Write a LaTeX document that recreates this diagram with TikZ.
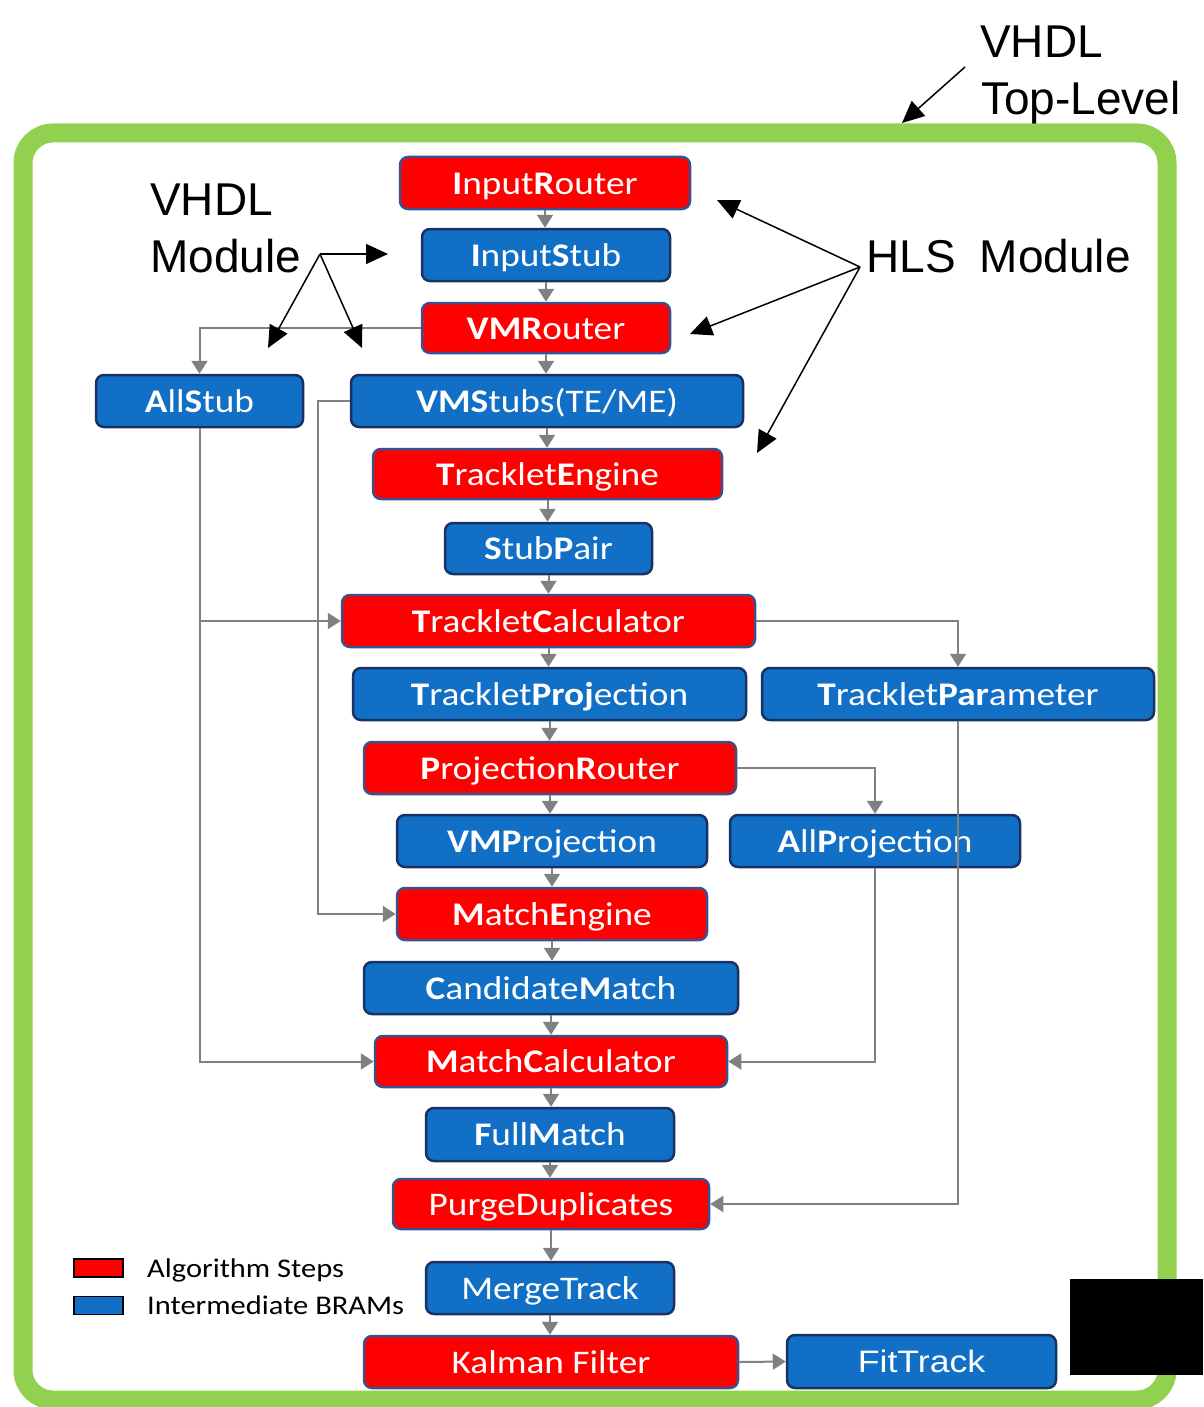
\documentclass[tikz,border=0pt]{standalone}
\usepackage{fontspec}
\setmainfont{Liberation Sans}
\newfontfamily\calfont[FakeStretch=1.13]{Carlito}
\newfontfamily\legfont[FakeStretch=1.13]{Carlito}
\newfontfamily\arialwide[FakeStretch=1.15]{Liberation Sans}
\usetikzlibrary{arrows.meta}
\definecolor{boxred}{RGB}{255,0,0}
\definecolor{boxblue}{RGB}{18,111,198}
\definecolor{redborder}{RGB}{60,80,140}
\definecolor{blueborder}{RGB}{25,50,100}
\definecolor{conngray}{RGB}{128,128,128}
\definecolor{framegreen}{RGB}{146,208,80}
\tikzset{
  box/.style={rounded corners=8pt, line width=2.5pt, inner sep=0pt, text=white,
    font=\calfont\fontsize{33}{36}\selectfont, text height=22pt, text depth=0pt},
  redbox/.style={box, fill=boxred, draw=redborder},
  bluebox/.style={box, fill=boxblue, draw=blueborder},
  conn/.style={draw=conngray, line width=2pt, -{Triangle[width=16pt,length=13pt]}},
  annot/.style={draw=black, line width=1.5pt, -{Triangle[width=20pt,length=22pt]}},
  bigtext/.style={font=\fontsize{46}{50}\selectfont, inner sep=0pt, anchor=base west, text=black},
  legbox/.style={draw=black, line width=1.2pt, minimum width=49pt, minimum height=18pt, inner sep=0pt},
  legtext/.style={font=\legfont\fontsize{27}{30}\selectfont, inner sep=0pt, anchor=base west, text=black}
}
\begin{document}
\begin{tikzpicture}[x=1pt,y=-1pt]
\useasboundingbox (0,0) rectangle (1203,1407);
% frame
\draw[framegreen, line width=19pt, rounded corners=30pt] (23,133) rectangle (1167,1400);

% boxes
\node[redbox, minimum width=290pt, minimum height=52pt] (ir) at (545,183) {\textbf{I}nput\textbf{R}outer};
\node[bluebox, minimum width=248pt, minimum height=52pt] (is) at (546,255) {\textbf{I}nput\textbf{S}tub};
\node[redbox, minimum width=248pt, minimum height=50pt] (vr) at (546,328) {\textbf{VMR}outer};
\node[bluebox, minimum width=207pt, minimum height=52pt] (as) at (199.5,401) {\textbf{A}ll\textbf{S}tub};
\node[bluebox, minimum width=392pt, minimum height=52pt] (vs) at (547,401) {\textbf{VMS}tubs(TE/ME)};
\node[redbox, minimum width=349pt, minimum height=50pt] (te) at (547.5,474) {\textbf{T}racklet\textbf{E}ngine};
\node[bluebox, minimum width=207pt, minimum height=51pt] (sp) at (548.5,548.5) {\textbf{S}tub\textbf{P}air};
\node[redbox, minimum width=413pt, minimum height=52pt] (tc) at (548.5,621) {\textbf{T}racklet\textbf{C}alculator};
\node[bluebox, minimum width=393pt, minimum height=52pt] (tp) at (549.5,694) {\textbf{T}racklet\textbf{Proj}ection};
\node[bluebox, minimum width=392pt, minimum height=52pt] (tpar) at (958,694) {\textbf{T}racklet\textbf{Par}ameter};
\node[redbox, minimum width=372pt, minimum height=52pt] (pr) at (550,768) {\textbf{P}rojection\textbf{R}outer};
\node[bluebox, minimum width=310pt, minimum height=52pt] (vmp) at (552,841) {\textbf{VMP}rojection};
\node[bluebox, minimum width=290pt, minimum height=52pt] (ap) at (875,841) {\textbf{A}ll\textbf{P}rojection};
\node[redbox, minimum width=310pt, minimum height=52pt] (me) at (552,914) {\textbf{M}atch\textbf{E}ngine};
\node[bluebox, minimum width=374pt, minimum height=52pt] (cm) at (551,988) {\textbf{C}andidate\textbf{M}atch};
\node[redbox, minimum width=352pt, minimum height=51pt] (mc) at (551,1061.5) {\textbf{M}atch\textbf{C}alculator};
\node[bluebox, minimum width=248pt, minimum height=53pt] (fm) at (550,1134.5) {\textbf{F}ull\textbf{M}atch};
\node[redbox, minimum width=316pt, minimum height=50pt] (pd) at (551,1204) {PurgeDuplicates};
\node[bluebox, minimum width=248pt, minimum height=52pt] (mt) at (550,1288) {MergeTrack};
\node[redbox, minimum width=374pt, minimum height=52pt] (kf) at (551,1362) {Kalman Filter};
\node[bluebox, minimum width=269pt, minimum height=53pt, font=\arialwide\fontsize{31}{34}\selectfont] (ft) at (921.5,1361.5) {FitTrack};

% chain connectors
\foreach \a/\b in {ir/is,is/vr,vr/vs,vs/te,te/sp,sp/tc,tc/tp,tp/pr,pr/vmp,vmp/me,me/cm,cm/mc,mc/fm,fm/pd,pd/mt,mt/kf}
  \draw[conn] (\a.south) -- (\a.south |- \b.north);

% side connectors
\draw[conn] (vr.west) -| (as.north);
\draw[conn] (vs.west) -- ++(-32,0) |- (me.west);
\draw[conn] (as.south) |- (mc.west);
\coordinate (asj) at (as.south |- tc.west);
\draw[conn] (asj) -- (tc.west);
\draw[conn] (tc.east) -| (tpar.north);
\draw[conn] (tpar.south) |- (pd.east);
\draw[conn] (pr.east) -| (ap.north);
\draw[conn] (ap.south) |- (mc.east);
\draw[conn] (kf.east) -- (ft.west);

% legend
\node[legbox, fill=boxred] (lr) at (98.5,1268) {};
\node[legbox, fill=boxblue] (lb) at (98.5,1305.5) {};
\node[legtext] (lrt) at (147,1277) {Algorithm Steps};
\node[legtext] (lbt) at (147,1314) {Intermediate BRAMs};

% annotations
\node[bigtext] (tl1) at (980,58) {VHDL};
\node[bigtext] (tl2) at (981,115) {Top-Level};
\coordinate (tls) at (965,67);
\coordinate (tle) at (902,123);
\draw[annot] (tls) -- (tle);

\node[bigtext] (vm1) at (150,215) {VHDL};
\node[bigtext] (vm2) at (150,272) {Module};
\coordinate (vmj) at (320,254);
\coordinate (vma) at (388,254);
\coordinate (vmb) at (268,348);
\coordinate (vmc) at (362,348);
\draw[annot] (vmj) -- (vma);
\draw[annot] (vmj) -- (vmb);
\draw[annot] (vmj) -- (vmc);

\node[bigtext] (hls) at (866,272) {HLS\hspace{0.25em} Module};
\coordinate (hj) at (860,267);
\coordinate (ha) at (717,200);
\coordinate (hb) at (690,334);
\coordinate (hc) at (757,453);
\draw[annot] (hj) -- (ha);
\draw[annot] (hj) -- (hb);
\draw[annot] (hj) -- (hc);

% redaction block
\fill[black] (1070,1279) rectangle (1203,1375);
\end{tikzpicture}
\end{document}
